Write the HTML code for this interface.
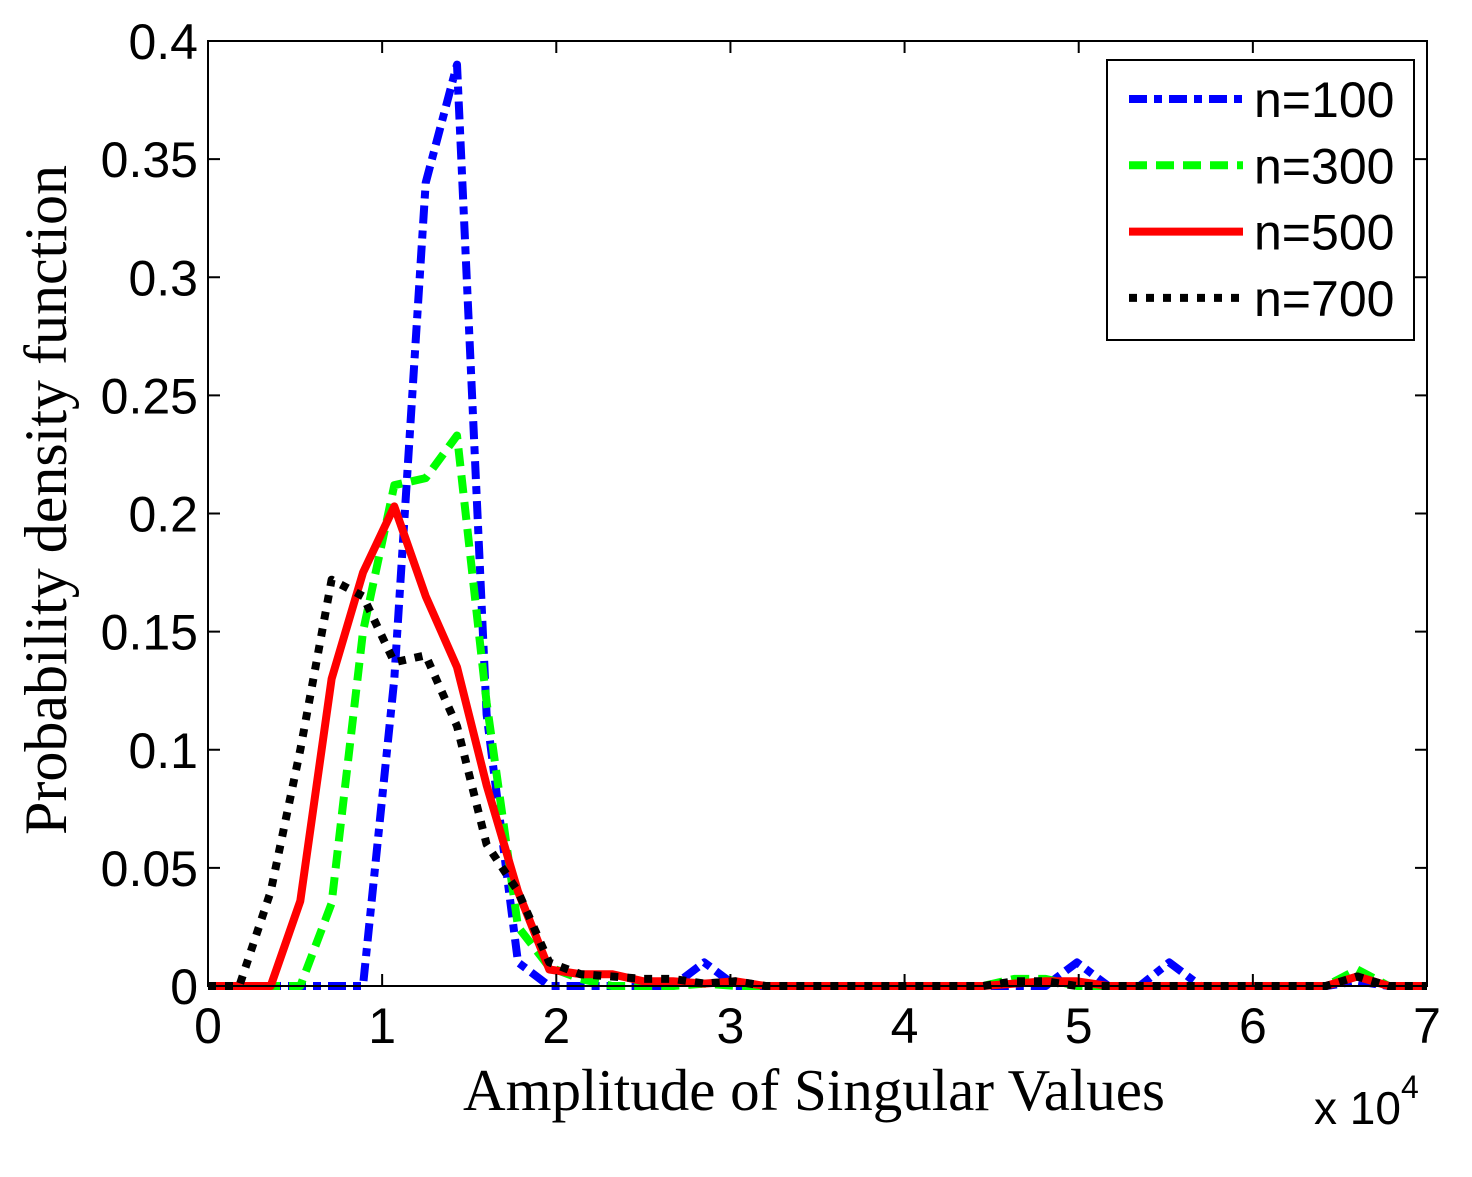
<!DOCTYPE html>
<html><head><meta charset="utf-8"><style>
html,body{margin:0;padding:0;background:#fff;}
svg{display:block;}
</style></head><body>
<svg id="chart" width="1472" height="1177" xmlns="http://www.w3.org/2000/svg">
<rect x="0" y="0" width="1472" height="1177" fill="#fff"/>
<g id="plot"></g>
<g id="axes"></g>
<text x="66" y="500" transform="rotate(-90 66 500)" text-anchor="middle" font-family="Liberation Serif, serif" font-size="60">Probability density function</text>
<text x="814" y="1110" text-anchor="middle" font-family="Liberation Serif, serif" font-size="59">Amplitude of Singular Values</text>
<text x="1314" y="1124" font-family="Liberation Sans, sans-serif" font-size="46">x 10<tspan dy="-26" font-size="32">4</tspan></text>
<g id="legend"></g>
</svg>
<script>
const NS='http://www.w3.org/2000/svg';
const xTicks=[0,1,2,3,4,5,6,7];
const yTicks=[0,0.05,0.1,0.15,0.2,0.25,0.3,0.35,0.4];
const yTickLabels=['0','0.05','0.1','0.15','0.2','0.25','0.3','0.35','0.4'];
const seriesNames=['n=100','n=300','n=500','n=700'];
const xGrid=[0,0.18,0.36,0.53,0.71,0.89,1.07,1.25,1.43,1.6,1.78,1.96,2.14,2.32,2.5,2.67,2.85,3.03,3.2,4.45,4.63,4.81,4.99,5.17,5.35,5.52,5.7,6.42,6.6,6.78,7];
const yN100=[0,0,0,0,0,0,0.13,0.34,0.39,0.115,0.01,0,0,0,0,0,0.01,0,0,0,0,0,0.01,0,0,0.01,0,0,0.002,0,0];
const yN300=[0,0,0,0,0.035,0.15,0.212,0.215,0.233,0.12,0.025,0.008,0.003,0,0,0,0.001,0,0,0,0.003,0.003,0,0,0,0,0,0,0.007,0,0];
const yN500=[0,0,0,0.036,0.13,0.175,0.203,0.165,0.135,0.085,0.04,0.007,0.005,0.005,0.002,0.002,0.001,0.002,0,0,0.001,0.002,0.002,0,0,0,0,0,0.004,0,0];
const yN700=[0,0,0.04,0.1,0.172,0.165,0.137,0.14,0.11,0.06,0.04,0.01,0.005,0.004,0.003,0.003,0.001,0.002,0,0,0.002,0.002,0,0,0,0,0,0,0.004,0,0];
const X0=208,X1=1427,Y0=986,Y1=41;
function sx(v){return X0+(v-0)/(7-0)*(X1-X0);}
function sy(v){return Y0-(v-0)/(0.4-0)*(Y0-Y1);}
const styles=[
 {c:'#0000ff',d:'18 7 8 7'},
 {c:'#00ff00',d:'18 9'},
 {c:'#ff0000',d:''},
 {c:'#000000',d:'8 9'}];
const allY=[yN100,yN300,yN500,yN700];
const plot=document.getElementById('plot');
allY.forEach((ys,i)=>{
 const p=document.createElementNS(NS,'polyline');
 p.setAttribute('points',xGrid.map((x,k)=>sx(x).toFixed(1)+','+sy(ys[k]).toFixed(1)).join(' '));
 p.setAttribute('fill','none');p.setAttribute('stroke',styles[i].c);p.setAttribute('stroke-width','8');
 if(styles[i].d)p.setAttribute('stroke-dasharray',styles[i].d);
 p.setAttribute('stroke-linejoin','round');
 
 
 plot.appendChild(p);
});
const axes=document.getElementById('axes');
function line(x1,y1,x2,y2,w,name){const l=document.createElementNS(NS,'line');l.setAttribute('x1',x1);l.setAttribute('y1',y1);l.setAttribute('x2',x2);l.setAttribute('y2',y2);l.setAttribute('stroke','#000');l.setAttribute('stroke-width',w);


axes.appendChild(l);}
const fr=document.createElementNS(NS,'rect');
fr.setAttribute('x',X0);fr.setAttribute('y',Y1);fr.setAttribute('width',X1-X0);fr.setAttribute('height',Y0-Y1);fr.setAttribute('fill','none');fr.setAttribute('stroke','#000');fr.setAttribute('stroke-width','2');


axes.appendChild(fr);
function text(x,y,s,anchor,name){const t=document.createElementNS(NS,'text');t.setAttribute('x',x);t.setAttribute('y',y);t.setAttribute('text-anchor',anchor);t.setAttribute('font-family','Liberation Sans, sans-serif');t.setAttribute('font-size','50');t.textContent=s;


axes.appendChild(t);return t;}
xTicks.forEach(v=>{const x=sx(v);line(x,Y0,x,Y0-12,2,'x-tick');line(x,Y1,x,Y1+12,2,'x-tick-top');text(x,Y0+57,String(v),'middle','x-tick-label');});
yTicks.forEach((v,i)=>{const y=sy(v);line(X0,y,X0+12,y,2,'y-tick');line(X1,y,X1-12,y,2,'y-tick-right');text(X0-10,y+18,yTickLabels[i],'end','y-tick-label');});
const lg=document.getElementById('legend');
const box=document.createElementNS(NS,'rect');
box.setAttribute('x',1107);box.setAttribute('y',60);box.setAttribute('width',307);box.setAttribute('height',280);box.setAttribute('fill','#fff');box.setAttribute('stroke','#000');box.setAttribute('stroke-width','2');


lg.appendChild(box);
seriesNames.forEach((n,i)=>{
 const y=99+i*66.3;
 const l=document.createElementNS(NS,'line');
 l.setAttribute('x1',1129);l.setAttribute('x2',1243);l.setAttribute('y1',y);l.setAttribute('y2',y);l.setAttribute('stroke',styles[i].c);l.setAttribute('stroke-width','8');
 if(styles[i].d)l.setAttribute('stroke-dasharray',styles[i].d);
 
 
 lg.appendChild(l);
 const t=document.createElementNS(NS,'text');
 t.setAttribute('x',1254);t.setAttribute('y',y+18);t.setAttribute('font-family','Liberation Sans, sans-serif');t.setAttribute('font-size','50');t.textContent=n;
 
 
 lg.appendChild(t);
});
</script>
</body></html>
